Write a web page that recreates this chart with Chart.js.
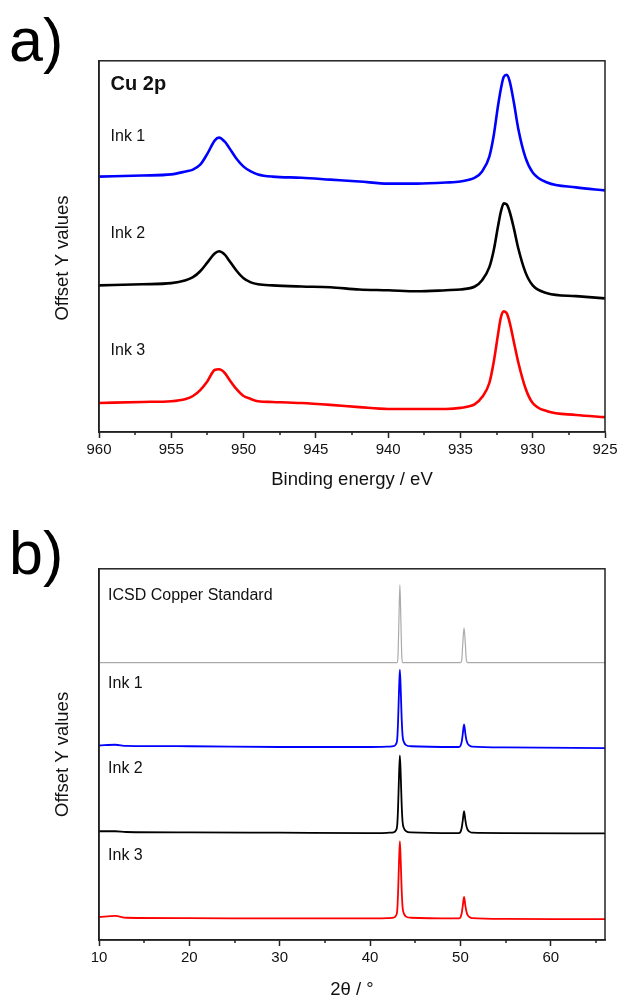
<!DOCTYPE html>
<html>
<head>
<meta charset="utf-8">
<title>Cu 2p XPS and XRD of copper inks</title>
<script src="https://cdn.jsdelivr.net/npm/chart.js"></script>
<style>
  html, body { margin: 0; padding: 0; background: #fff; overflow: hidden; }
  #wrap { position: relative; width: 619px; height: 999px; overflow: hidden; }
  canvas { position: absolute; left: 0; }
  #xpsChart { top: 0; }
  #xrdChart { top: 500px; }
</style>
</head>
<body>
<div id="wrap">
  <canvas id="xpsChart" width="623" height="500"></canvas>
  <canvas id="xrdChart" width="619" height="499"></canvas>
</div>
<script>
// panel a) XPS, Cu 2p region (binding energy in eV, offset intensity)
const xpsEnergy = [960, 957, 955, 954, 953.5, 953, 952.5, 952, 951.7, 951.3,
  951, 950.5, 950, 949.5, 949, 948, 946, 944, 942, 940,
  938, 936, 935, 934, 933.5, 933, 932.7, 932.4, 932.2, 932.0,
  931.8, 931.6, 931.3, 931, 930.5, 930, 929, 927, 925];
const xpsInk1 = [68.8, 69.1, 69.4, 70.2, 70.7, 72.0, 75.0, 78.5, 79.3, 78.2,
  76.6, 73.7, 71.5, 70.2, 69.4, 68.8, 68.5, 68.0, 67.5, 66.9,
  66.9, 67.2, 67.5, 68.5, 70.2, 74.2, 79.8, 87.9, 92.5, 95.7,
  96.2, 94.6, 88.7, 81.7, 73.9, 69.9, 67.2, 65.9, 65.1];
const xpsInk2 = [39.5, 39.8, 40.1, 40.9, 41.7, 43.3, 45.7, 48.1, 48.7, 47.8,
  46.2, 43.5, 41.4, 40.3, 39.8, 39.5, 39.2, 39.0, 38.4, 38.2,
  37.9, 38.2, 38.4, 39.2, 40.9, 44.4, 48.9, 55.4, 59.4, 61.6,
  61.3, 59.4, 54.8, 49.5, 43.0, 39.5, 37.4, 36.6, 36.0];
const xpsInk3 = [7.8, 8.1, 8.3, 8.9, 9.7, 11.3, 13.7, 16.7, 16.9, 15.9,
  14.2, 11.6, 9.7, 8.9, 8.3, 8.1, 7.8, 7.3, 6.7, 6.2,
  6.2, 6.2, 6.5, 7.5, 9.4, 13.2, 18.8, 26.3, 30.9, 32.5,
  32.0, 29.6, 24.2, 18.8, 11.8, 7.8, 5.6, 4.6, 4.0];

// panel b) XRD (2 theta in degrees, offset intensity)
const xrdAngle = [10, 11.8, 13, 20, 30, 40, 42.1, 42.6, 42.85, 43.0,
  43.1, 43.2, 43.3, 43.4, 43.5, 43.6, 43.75, 44.0, 44.5, 49.5,
  49.8, 50.0, 50.15, 50.25, 50.4, 50.55, 50.65, 50.8, 51.0, 51.3,
  55, 66];
const xrdIcsd = [74.7, 74.7, 74.7, 74.7, 74.7, 74.7, 74.7, 74.7, 74.7, 74.7,
  77.0, 87.0, 95.7, 87.0, 77.0, 74.7, 74.7, 74.7, 74.7, 74.7,
  74.7, 74.7, 75.5, 79.5, 84.1, 79.5, 75.5, 74.7, 74.7, 74.7,
  74.7, 74.7];
const xrdInk1 = [52.4, 52.6, 52.3, 52.2, 52.0, 52.0, 52.1, 52.2, 52.7, 54.0,
  59.0, 67.0, 72.8, 67.0, 59.5, 55.0, 53.3, 52.5, 52.2, 52.0,
  52.0, 52.3, 53.5, 55.3, 58.1, 55.5, 54.0, 52.9, 52.4, 52.1,
  51.9, 51.7];
const xrdInk2 = [29.3, 29.3, 29.1, 29.0, 28.9, 28.8, 28.9, 29.0, 29.5, 30.8,
  35.8, 43.9, 49.7, 43.9, 36.3, 31.8, 30.1, 29.3, 29.0, 28.8,
  28.8, 29.1, 30.3, 32.0, 34.7, 32.2, 30.8, 29.7, 29.2, 28.9,
  28.8, 28.7];
const xrdInk3 = [6.2, 6.5, 6.0, 5.9, 5.8, 5.8, 5.9, 6.0, 6.5, 7.8,
  12.8, 20.8, 26.6, 20.8, 13.3, 8.8, 7.1, 6.3, 6.0, 5.8,
  5.8, 6.1, 7.3, 9.0, 11.6, 9.2, 7.8, 6.7, 6.2, 5.9,
  5.7, 5.6];

const FONT = 'Arial, "Liberation Sans", sans-serif';

function toPoints(xs, ys) {
  return xs.map((x, i) => ({ x: x, y: ys[i] }));
}

// box round the plot area
const frame = {
  id: 'frame',
  afterDraw(chart) {
    const { ctx, chartArea: a } = chart;
    ctx.save();
    ctx.strokeStyle = '#222';
    ctx.lineWidth = 1.5;
    ctx.strokeRect(a.left, a.top, a.right - a.left, a.bottom - a.top);
    ctx.restore();
  }
};

// short unlabelled ticks half way between the major ones
// (tick list comes back reversed when the axis is reversed, so sort it)
const minorTicks = {
  id: 'minorTicks',
  afterDraw(chart) {
    const sx = chart.scales.x;
    const vals = sx.ticks.map(t => t.value).sort((a, b) => a - b);
    if (vals.length < 2) return;
    const step = vals[1] - vals[0];
    if (!(step > 0)) return;
    const ctx = chart.ctx;
    ctx.save();
    ctx.strokeStyle = '#222';
    ctx.lineWidth = 1.5;
    ctx.beginPath();
    for (let i = 0; i < 100; i++) {
      const v = vals[0] + step / 2 + i * step;
      if (v > sx.max) break;
      const px = Math.round(sx.getPixelForValue(v));
      ctx.moveTo(px, sx.top);
      ctx.lineTo(px, sx.top + 3);
    }
    ctx.stroke();
    ctx.restore();
  }
};

// text labels placed in data units
const curveLabels = {
  id: 'curveLabels',
  afterDatasetsDraw(chart, args, opts) {
    const { ctx, scales: { x, y } } = chart;
    ctx.save();
    ctx.fillStyle = '#111';
    ctx.textAlign = 'left';
    ctx.textBaseline = 'middle';
    for (const item of opts.items || []) {
      ctx.font = item.font;
      ctx.fillText(item.text, x.getPixelForValue(item.x), y.getPixelForValue(item.y));
    }
    ctx.restore();
  }
};

function line(label, xs, ys, color, width) {
  return {
    label: label,
    data: toPoints(xs, ys),
    borderColor: color,
    borderWidth: width,
    pointRadius: 0,
    fill: false,
    cubicInterpolationMode: 'monotone'
  };
}

function buildChart(canvasId, cfg) {
  const ctx = document.getElementById(canvasId);
  return new Chart(ctx, {
    type: 'line',
    data: { datasets: cfg.datasets },
    options: {
      responsive: false,
      animation: false,
      events: [],
      layout: { padding: { left: 9, right: cfg.padRight, top: 0, bottom: 0 } },
      plugins: {
        legend: { display: false },
        tooltip: { enabled: false },
        title: {
          display: true,
          text: cfg.panel,
          align: 'start',
          color: '#000',
          font: { family: FONT, size: 61, weight: 'normal', lineHeight: 0.8 },
          padding: cfg.panelPadding
        },
        curveLabels: { items: cfg.labels }
      },
      scales: {
        x: {
          type: 'linear',
          min: cfg.xMin,
          max: cfg.xMax,
          reverse: cfg.reverse,
          afterFit: s => { s.height = cfg.xAxisHeight; },
          border: { color: '#222', width: 1.5 },
          grid: { drawOnChartArea: false, tickLength: 6, tickColor: '#222', tickWidth: 1.5 },
          ticks: {
            stepSize: cfg.step,
            includeBounds: false,
            padding: 3,
            maxRotation: 0,
            color: '#111',
            font: { family: FONT, size: 15 }
          },
          title: {
            display: true,
            text: cfg.xTitle,
            color: '#111',
            font: { family: FONT, size: 18.5 },
            padding: { top: 0, bottom: cfg.xTitlePad }
          }
        },
        y: {
          min: 0,
          max: 100,
          afterFit: s => { s.width = 90; },
          border: { color: '#222', width: 1.5 },
          grid: { display: false },
          ticks: { display: false },
          title: {
            display: true,
            text: cfg.yTitle,
            color: '#111',
            font: { family: FONT, size: 18.5 },
            padding: { top: 43, bottom: 0 }
          }
        }
      }
    },
    plugins: [frame, minorTicks, curveLabels]
  });
}

buildChart('xpsChart', {
  panel: 'a)',
  panelPadding: { top: 20, bottom: -8 },
  padRight: 18,
  xMin: 925, xMax: 960, step: 5, reverse: true,
  xAxisHeight: 68,
  xTitle: 'Binding energy / eV',
  xTitlePad: 9,
  // trailing spaces push the rotated title a little lower, as in the original
  yTitle: 'Offset Y values\u2003\u2005',
  datasets: [
    line('Ink 1', xpsEnergy, xpsInk1, '#0000ff', 2.6),
    line('Ink 2', xpsEnergy, xpsInk2, '#000000', 2.6),
    line('Ink 3', xpsEnergy, xpsInk3, '#ff0000', 2.6)
  ],
  labels: [
    { text: 'Cu 2p', x: 959.2, y: 93.5, font: 'bold 20px ' + FONT },
    { text: 'Ink 1', x: 959.2, y: 79.6, font: '16px ' + FONT },
    { text: 'Ink 2', x: 959.2, y: 53.5, font: '16px ' + FONT },
    { text: 'Ink 3', x: 959.2, y: 22.0, font: '16px ' + FONT }
  ]
});

buildChart('xrdChart', {
  panel: 'b)',
  panelPadding: { top: 32.7, bottom: -12.7 },
  padRight: 14,
  xMin: 10, xMax: 66, step: 10, reverse: false,
  xAxisHeight: 59,
  xTitle: '2θ / °',
  xTitlePad: -2,
  yTitle: 'Offset Y values',
  datasets: [
    line('ICSD Copper Standard', xrdAngle, xrdIcsd, '#aaaaaa', 1.2),
    line('Ink 1', xrdAngle, xrdInk1, '#0000ff', 1.8),
    line('Ink 2', xrdAngle, xrdInk2, '#000000', 1.8),
    line('Ink 3', xrdAngle, xrdInk3, '#ff0000', 1.8)
  ],
  labels: [
    { text: 'ICSD Copper Standard', x: 11.0, y: 92.8, font: '16px ' + FONT },
    { text: 'Ink 1', x: 11.0, y: 69.2, font: '16px ' + FONT },
    { text: 'Ink 2', x: 11.0, y: 46.2, font: '16px ' + FONT },
    { text: 'Ink 3', x: 11.0, y: 22.8, font: '16px ' + FONT }
  ]
});
</script>
</body>
</html>
